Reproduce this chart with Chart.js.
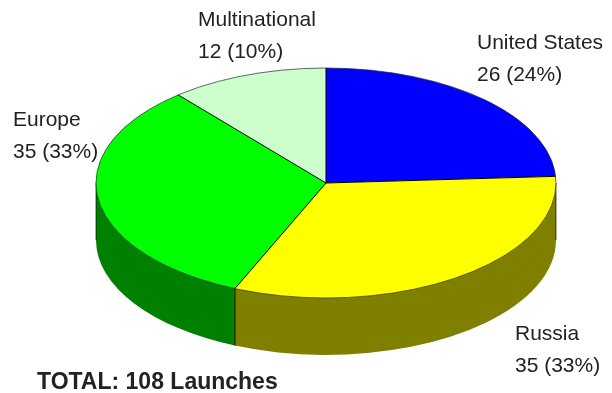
<!DOCTYPE html>
<html>
<head>
<meta charset="utf-8">
<title>Launches by Country</title>
<script src="https://cdn.jsdelivr.net/npm/chart.js@4.4.1/dist/chart.umd.min.js"></script>
<style>
  html, body { margin: 0; padding: 0; background: #ffffff; }
  #launches { display: block; }
</style>
</head>
<body>
<canvas id="launches" width="612" height="393"></canvas>
<script>
// --- Data ---
const categories = ['United States', 'Russia', 'Europe', 'Multinational'];
const launches = [26, 35, 35, 12];
const percentLabels = ['24%', '33%', '33%', '10%'];

// --- Styles ---
const topColors = ['#0000ff', '#ffff00', '#00ff00', '#ccffcc'];
const sideColors = ['#000080', '#808000', '#008000', '#668066'];
// where each two-line label starts (left x, first baseline)
const labelAnchors = [[477, 49], [515, 340], [13, 126], [198, 26]];

const RADIUS = 115;   // vertical radius of the top face
const STRETCH = 2;    // horizontal / vertical ratio of the ellipse
const DEPTH = 57;     // thickness of the pie
const FONT = '"Liberation Sans", Arial, sans-serif';

// Tilts the pie into an ellipse and adds the side walls and labels
const pie3d = {
    id: 'pie3d',
    beforeDatasetsDraw(chart) {
        const ctx = chart.ctx;
        const arcs = chart.getDatasetMeta(0).data;
        const cx = arcs[0].x, cy = arcs[0].y;
        const rx = arcs[0].outerRadius * STRETCH, ry = arcs[0].outerRadius;

        // side walls, only the front half is visible
        arcs.forEach(function (arc, i) {
            const a = Math.max(arc.startAngle, 0);
            const b = Math.min(arc.endAngle, Math.PI);
            if (b <= a) return;
            ctx.beginPath();
            ctx.ellipse(cx, cy, rx, ry, 0, a, b);
            ctx.ellipse(cx, cy + DEPTH, rx, ry, 0, b, a, true);
            ctx.closePath();
            ctx.fillStyle = sideColors[i];
            ctx.fill();

            // edges where the wall meets a neighbour or turns away
            ctx.strokeStyle = 'rgba(0,0,0,0.65)';
            ctx.lineWidth = 1;
            [a, b].forEach(function (t) {
                const x = cx + rx * Math.cos(t), y = cy + ry * Math.sin(t);
                ctx.beginPath();
                ctx.moveTo(x, y);
                ctx.lineTo(x, y + DEPTH);
                ctx.stroke();
            });
        });

        // top face is drawn by Chart.js, squashed into the ellipse
        ctx.save();
        ctx.translate(cx, cy);
        ctx.scale(STRETCH, 1);
        ctx.translate(-cx, -cy);
    },
    afterDatasetsDraw(chart) {
        const ctx = chart.ctx;
        ctx.restore();

        const arcs = chart.getDatasetMeta(0).data;
        const cx = arcs[0].x, cy = arcs[0].y;
        const rx = arcs[0].outerRadius * STRETCH, ry = arcs[0].outerRadius;

        // rim of the top face
        ctx.beginPath();
        ctx.ellipse(cx, cy, rx, ry, 0, 0, Math.PI * 2);
        ctx.strokeStyle = 'rgba(40,40,40,0.7)';
        ctx.lineWidth = 1;
        ctx.stroke();

        // slice boundaries
        ctx.strokeStyle = '#000000';
        arcs.forEach(function (arc) {
            const t = arc.startAngle;
            ctx.beginPath();
            ctx.moveTo(cx, cy);
            ctx.lineTo(cx + rx * Math.cos(t), cy + ry * Math.sin(t));
            ctx.stroke();
        });
    },
    afterDraw(chart) {
        const ctx = chart.ctx;
        ctx.save();
        ctx.fillStyle = '#222222';
        ctx.textAlign = 'left';
        ctx.textBaseline = 'alphabetic';
        ctx.font = '21px ' + FONT;
        categories.forEach(function (name, i) {
            const p = labelAnchors[i];
            ctx.fillText(name, p[0], p[1]);
            ctx.fillText(launches[i] + ' (' + percentLabels[i] + ')', p[0], p[1] + 32);
        });

        const total = launches.reduce(function (s, v) { return s + v; }, 0);
        ctx.font = 'bold 23px ' + FONT;
        ctx.fillText('TOTAL: ' + total + ' Launches', 37, 389);
        ctx.restore();
    }
};

new Chart(document.getElementById('launches'), {
    type: 'pie',
    data: {
        labels: categories,
        datasets: [{
            data: launches,
            backgroundColor: topColors,
            borderWidth: 0,
            radius: RADIUS,
            clip: false
        }]
    },
    options: {
        responsive: false,
        devicePixelRatio: 1,
        animation: false,
        layout: { padding: { left: 40, right: 0, top: 0, bottom: 27 } },
        plugins: {
            legend: { display: false },
            tooltip: { enabled: false }
        }
    },
    plugins: [pie3d]
});
</script>
</body>
</html>
